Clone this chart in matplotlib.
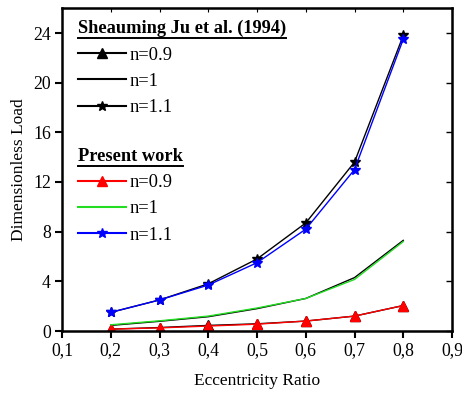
import matplotlib
matplotlib.use("Agg")
import matplotlib.pyplot as plt
from matplotlib.lines import Line2D
from matplotlib.ticker import FuncFormatter

plt.rcParams['font.family'] = ['Liberation Serif', 'DejaVu Serif']
plt.rcParams['mathtext.fontset'] = 'stix'

ecc = [0.2, 0.3, 0.4, 0.5, 0.6, 0.7, 0.8]

# Sheauming Ju et al. (1994)
ju_n09 = [0.15, 0.28, 0.45, 0.58, 0.80, 1.20, 2.05]
ju_n10 = [0.45, 0.78, 1.15, 1.80, 2.62, 4.30, 7.30]
ju_n11 = [1.50, 2.50, 3.80, 5.80, 8.70, 13.60, 23.80]

# Present work
pw_n09 = [0.15, 0.25, 0.40, 0.55, 0.80, 1.20, 2.05]
pw_n10 = [0.50, 0.82, 1.20, 1.85, 2.62, 4.15, 7.20]
pw_n11 = [1.50, 2.50, 3.70, 5.50, 8.20, 13.00, 23.50]

xticks = [0.1, 0.2, 0.3, 0.4, 0.5, 0.6, 0.7, 0.8, 0.9]
yticks = [0, 4, 8, 12, 16, 20, 24]

fig = plt.figure(figsize=(4.62, 3.94), dpi=100)
ax = fig.add_axes([62/462, 1-331/394, 390/462, 323/394])

h1, = ax.plot(ecc, ju_n09, color='black', lw=1.0, marker='^', ms=6.5)
h2, = ax.plot(ecc, ju_n10, color='black', lw=1.0)
h3, = ax.plot(ecc, ju_n11, color='black', lw=1.0, marker='*', ms=7.5)
p1, = ax.plot(ecc, pw_n09, color='#ff0000', lw=1.0, marker='^', ms=6.5)
p2, = ax.plot(ecc, pw_n10, color='#22dd22', lw=1.0)
p3, = ax.plot(ecc, pw_n11, color='#0000ff', lw=1.0, marker='*', ms=7.5)

ax.set_xlim(0.1, 0.9)
ax.set_ylim(0, 24/298*323)
ax.set_xticks(xticks)
ax.set_yticks(yticks)
ax.xaxis.set_major_formatter(FuncFormatter(lambda v, p: f"{v:.1f}".replace('.', ',')))
ax.tick_params(axis='both', direction='out', length=5, width=1.5, labelsize=12.8)
ax.tick_params(axis='x', pad=3)
ax.tick_params(axis='y', pad=3)
for s in ax.spines.values():
    s.set_linewidth(1.8)

secx = ax.secondary_xaxis('top')
secx.set_xticks(xticks)
secx.tick_params(direction='in', length=3, width=0.8, labeltop=False)
secy = ax.secondary_yaxis('right')
secy.set_yticks(yticks)
secy.tick_params(direction='in', length=4, width=1.0, labelright=False)

ax.set_xlabel('Eccentricity Ratio', fontsize=12.5, labelpad=10)
ax.set_ylabel('Dimensionless Load', fontsize=12.5, labelpad=4)

leg_kw = dict(frameon=False, fontsize=13.3, handlelength=2.6, handletextpad=0.2,
              labelspacing=0.5, borderpad=0, borderaxespad=0, alignment='left',
              title_fontproperties={'weight': 'bold', 'size': 13.2})
leg1 = ax.legend([h1, h2, h3], ['n=0.9', 'n=1', 'n=1.1'],
                 title='Sheauming Ju et al. (1994)', loc='upper left',
                 bbox_to_anchor=(16/390, (331-20)/323), **leg_kw)
ax.add_artist(leg1)
leg2 = ax.legend([p1, p2, p3], ['n=0.9', 'n=1', 'n=1.1'],
                 title='Present work', loc='upper left',
                 bbox_to_anchor=(16/390, (331-148)/323), **leg_kw)
for lg in (leg1, leg2):
    for ln in lg.get_lines():
        ln.set_linewidth(1.5)

fig.canvas.draw()
r = fig.canvas.get_renderer()
for lg in (leg1, leg2):
    bb = lg.get_title().get_window_extent(r)
    x0, x1 = bb.x0 / fig.bbox.width, bb.x1 / fig.bbox.width
    y = (bb.y0 - 1) / fig.bbox.height
    fig.add_artist(Line2D([x0, x1], [y, y], color='black', lw=1.4,
                          transform=fig.transFigure))

fig.savefig('out.png', dpi=100)
